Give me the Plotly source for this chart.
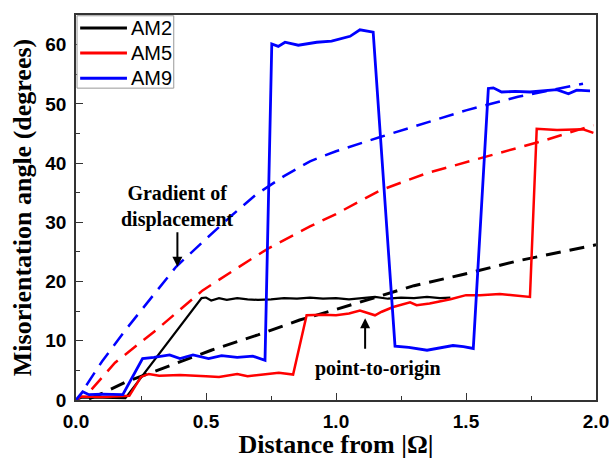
import plotly.graph_objects as go

# ---- data ----
am2_x = [0, 0.02, 0.1, 0.19, 0.483, 0.5, 0.52, 0.55, 0.58, 0.62, 0.66, 0.7, 0.75, 0.8, 0.85,
         0.9, 0.95, 1.0, 1.05, 1.1, 1.15, 1.2, 1.25, 1.3, 1.35, 1.4, 1.44]
am2_y = [0, 0.4, 0.4, 0.3, 17.2, 17.3, 16.8, 17.2, 16.9, 17.2, 17.0, 16.9, 17.0, 17.2, 17.1,
         17.3, 17.1, 17.2, 17.0, 17.2, 17.4, 17.1, 17.3, 17.2, 17.4, 17.2, 17.3]

am5_x = [0, 0.02, 0.1, 0.205, 0.25, 0.28, 0.32, 0.4, 0.5, 0.55, 0.62, 0.66, 0.72, 0.78, 0.835,
         0.887, 0.95, 1.0, 1.05, 1.092, 1.15, 1.176, 1.22, 1.285, 1.31, 1.36, 1.44, 1.5, 1.554,
         1.63, 1.68, 1.746, 1.772, 1.85, 1.95, 1.99]
am5_y = [0, 0.6, 0.5, 0.7, 3.9, 4.4, 4.1, 4.2, 4.0, 3.9, 4.4, 4.0, 4.3, 4.6, 4.3,
         14.3, 14.4, 14.3, 14.6, 15.1, 14.3, 14.9, 15.7, 16.5, 16.0, 16.3, 17.0, 17.7, 17.7,
         17.9, 17.7, 17.4, 45.8, 45.6, 45.7, 45.1]

am9_x = [0, 0.026, 0.05, 0.1, 0.18, 0.256, 0.3, 0.36, 0.4, 0.45, 0.51, 0.56, 0.62, 0.68, 0.727,
         0.753, 0.778, 0.804, 0.855, 0.926, 0.983, 1.054, 1.092, 1.143, 1.227, 1.28, 1.35, 1.45,
         1.49, 1.528, 1.586, 1.605, 1.637, 1.69, 1.746, 1.8, 1.849, 1.894, 1.926, 1.977]
am9_y = [0, 1.4, 0.9, 1.0, 0.9, 7.0, 7.2, 7.6, 7.0, 7.6, 7.0, 7.5, 7.2, 7.4, 6.7,
         60.1, 59.7, 60.4, 59.9, 60.4, 60.6, 61.4, 62.5, 62.1, 9.1, 8.9, 8.4, 9.2,
         9.0, 8.7, 52.6, 52.7, 52.0, 52.1, 52.0, 52.2, 52.4, 51.7, 52.3, 52.2]

g9_x = [0.04, 0.1, 0.19, 0.3, 0.385, 0.5, 0.6, 0.69, 0.8, 0.9, 1.0, 1.17, 1.3, 1.5, 1.7, 1.95]
g9_y = [2.5, 6.5, 11.8, 17.8, 22.5, 27.2, 31.2, 34.6, 37.8, 40.3, 42.0, 44.4, 46.2, 48.9, 51.2, 53.4]

g5_x = [0.06, 0.15, 0.308, 0.487, 0.667, 0.74, 0.9, 1.0, 1.17, 1.35, 1.57, 1.8, 1.99]
g5_y = [1.8, 6.3, 11.8, 18.5, 23.6, 25.6, 29.3, 31.4, 35.4, 38.3, 41.0, 43.8, 46.4]

p2_x = [0.05, 0.1, 0.19, 0.3, 0.4, 0.52, 0.7, 0.86, 1.0, 1.18, 1.3, 1.48, 1.7, 2.0]
p2_y = [0.2, 1.1, 3.0, 4.8, 6.4, 8.4, 11.0, 13.5, 15.3, 17.7, 19.3, 21.1, 23.5, 26.2]

x_ticks = [0, 0.5, 1.0, 1.5, 2.0]
x_tick_labels = ["0.0", "0.5", "1.0", "1.5", "2.0"]
y_ticks = [0, 10, 20, 30, 40, 50, 60]
legend_names = ["AM2", "AM5", "AM9"]

BLACK, RED, BLUE = "#000000", "#ff0000", "#0000ff"
legend_colors = [BLACK, RED, BLUE]
DASH = "15px,9px"

fig = go.Figure()
fig.add_trace(go.Scatter(x=g9_x, y=g9_y, mode="lines", showlegend=False,
                         line=dict(color=BLUE, width=2.5, dash=DASH)))
fig.add_trace(go.Scatter(x=g5_x, y=g5_y, mode="lines", showlegend=False,
                         line=dict(color=RED, width=2.5, dash=DASH)))
fig.add_trace(go.Scatter(x=p2_x, y=p2_y, mode="lines", showlegend=False,
                         line=dict(color=BLACK, width=3, dash=DASH)))
fig.add_trace(go.Scatter(x=am2_x, y=am2_y, mode="lines", name="AM2", showlegend=False,
                         line=dict(color=BLACK, width=2.2)))
fig.add_trace(go.Scatter(x=am5_x, y=am5_y, mode="lines", name="AM5", showlegend=False,
                         line=dict(color=RED, width=2.5)))
fig.add_trace(go.Scatter(x=am9_x, y=am9_y, mode="lines", name="AM9", showlegend=False,
                         line=dict(color=BLUE, width=2.8)))

# ---- legend box drawn in paper coordinates ----
fig.add_shape(type="rect", xref="paper", yref="paper", x0=0.002, x1=0.188, y0=0.81, y1=0.998,
              line=dict(color="#999", width=1), fillcolor="white", layer="above")
for i, (nm, col) in enumerate(zip(legend_names, legend_colors)):
    yy = 0.966 - i * 0.065
    fig.add_shape(type="line", xref="paper", yref="paper", x0=0.008, x1=0.098, y0=yy, y1=yy,
                  line=dict(color=col, width=3), layer="above")
    fig.add_annotation(x=0.102, y=yy, xref="paper", yref="paper", xanchor="left", yanchor="middle",
                       text=nm, showarrow=False,
                       font=dict(family="Liberation Sans", size=20, color="black"))

SERIF = "Liberation Serif"
fig.add_annotation(x=0.39, y=22.5, ax=0, ay=-36, xref="x", yref="y", axref="pixel", ayref="pixel",
                   text="", showarrow=True, arrowhead=2, arrowsize=1, arrowwidth=2, arrowcolor="black")
fig.add_annotation(x=0.39, y=32.6, xref="x", yref="y", showarrow=False,
                   text="<b>Gradient of<br>displacement</b>",
                   font=dict(family=SERIF, size=20, color="black"), align="center")
fig.add_annotation(x=1.112, y=13.8, ax=0, ay=32, xref="x", yref="y", axref="pixel", ayref="pixel",
                   text="", showarrow=True, arrowhead=2, arrowsize=1, arrowwidth=2, arrowcolor="black")
fig.add_annotation(x=1.16, y=5.3, xref="x", yref="y", showarrow=False,
                   text="<b>point-to-origin</b>",
                   font=dict(family=SERIF, size=20, color="black"))

axis_common = dict(showline=True, linecolor="#333", linewidth=1.5, mirror=True,
                   ticks="inside", ticklen=7, tickwidth=1.3, tickcolor="#333",
                   showgrid=False, zeroline=False, automargin=False, ticklabeloverflow="allow",
                   tickfont=dict(family="Liberation Sans", size=19, color="black", weight="bold"))

fig.update_layout(
    width=609, height=459,
    margin=dict(l=76, r=13, t=15, b=59),
    paper_bgcolor="white", plot_bgcolor="white",
    xaxis=dict(range=[0, 2.0], tickvals=x_ticks, ticktext=x_tick_labels,
               ticklabelstandoff=3,
               minor=dict(dtick=0.25, ticks="inside", ticklen=4, tickcolor="#333", showgrid=False),
               title=dict(text="<b>Distance from |Ω|</b>", standoff=12,
                          font=dict(family=SERIF, size=26, color="black")),
               **axis_common),
    yaxis=dict(range=[0, 65], tickvals=y_ticks,
               ticklabelstandoff=4,
               minor=dict(dtick=5, ticks="inside", ticklen=4, tickcolor="#333", showgrid=False),
               title=dict(text="<b>Misorientation angle (degrees)</b>", standoff=6,
                          font=dict(family=SERIF, size=26, color="black")),
               **axis_common),
    showlegend=False,
)

fig.write_html("out.html")
